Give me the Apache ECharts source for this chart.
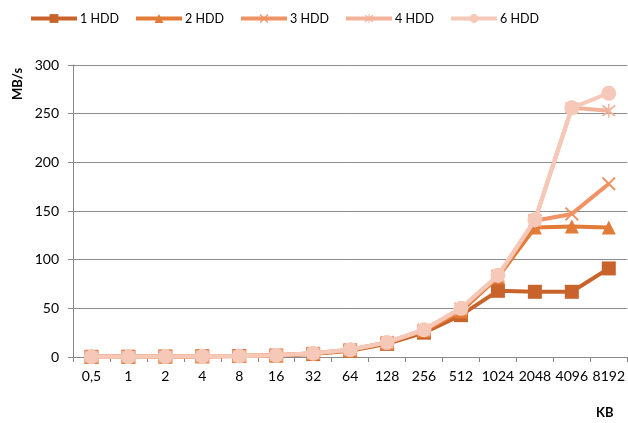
<!DOCTYPE html>
<html>
<head>
<meta charset="utf-8">
<script src="https://cdn.jsdelivr.net/npm/echarts@6/dist/echarts.min.js"></script>
<style>
  html, body { margin: 0; padding: 0; background: #fff; }
  #chart { width: 628px; height: 423px; }
</style>
</head>
<body>
<div id="chart"></div>
<script>
// Block sizes (KB) on the horizontal axis
const blockSizes = ['0,5', '1', '2', '4', '8', '16', '32', '64', '128', '256', '512', '1024', '2048', '4096', '8192'];

// Throughput in MB/s per disk count
const hdd1 = [0.2, 0.3, 0.5, 0.8, 1.0, 1.5, 3.0, 6.5, 13.5, 25, 43, 68, 67, 67, 91];
const hdd2 = [0.2, 0.3, 0.5, 0.8, 1.0, 1.8, 3.5, 7.0, 14.5, 27, 47, 82, 133, 134, 133];
const hdd3 = [0.2, 0.3, 0.5, 0.8, 1.0, 1.8, 3.8, 7.5, 15, 27.5, 49, 83, 140, 147, 178];
const hdd4 = [0.2, 0.3, 0.5, 0.8, 1.0, 1.8, 3.8, 7.5, 15, 28, 50, 83, 140, 256, 253];
const hdd6 = [0.2, 0.3, 0.5, 0.8, 1.0, 1.8, 3.8, 7.5, 15, 28, 50, 84, 141, 256, 271];

const seriesNames = ['1 HDD', '2 HDD', '3 HDD', '4 HDD', '6 HDD'];
const colors = ['#C8642B', '#E27B37', '#EF9264', '#F3B29A', '#F6C8B8'];

const crossPath = 'path://M0,1L1,0L5,4L9,0L10,1L6,5L10,9L9,10L5,6L1,10L0,9L4,5Z';
const starPath = 'path://M0,1.6L0.8,0.8L5,4L9.2,0.8L10,1.6L6,5L10,8.4L9.2,9.2L5,6L0.8,9.2L0,8.4L4,5Z M4.5,0L5.5,0L5.5,10L4.5,10Z';

const symbols = ['rect', 'triangle', crossPath, starPath, 'circle'];
const symbolSizes = [14, 14, 14, 14, 15];
const dataSets = [hdd1, hdd2, hdd3, hdd4, hdd6];

const chart = echarts.init(document.getElementById('chart'), null, { renderer: 'canvas' });

const font = 'Lato, "Open Sans", sans-serif';

chart.setOption({
  animation: false,
  color: colors,
  textStyle: { fontFamily: font },
  legend: {
    top: 7,
    left: 24,
    itemGap: 15,
    itemWidth: 46,
    itemHeight: 11,
    lineStyle: { width: 4 },
    textStyle: { fontSize: 12.5, color: '#000', fontFamily: font, padding: [0, 0, 0, -2] },
    data: seriesNames
  },
  grid: { left: 73, right: 0, top: 65, bottom: 66, containLabel: false },
  xAxis: {
    type: 'category',
    data: blockSizes,
    boundaryGap: true,
    axisLine: { lineStyle: { color: '#888', width: 1 } },
    axisTick: { show: true, length: 5, alignWithLabel: false, lineStyle: { color: '#888' } },
    axisLabel: { fontSize: 14, color: '#000', margin: 12, interval: 0, fontFamily: font }
  },
  yAxis: {
    type: 'value',
    min: 0,
    max: 300,
    interval: 50,
    axisLine: { show: true, lineStyle: { color: '#888', width: 1 } },
    axisTick: { show: true, length: 5, lineStyle: { color: '#888' } },
    splitLine: { lineStyle: { color: '#8c8c8c', width: 1 } },
    axisLabel: { fontSize: 14, color: '#000', margin: 14, fontFamily: font }
  },
  graphic: [
    {
      type: 'text',
      x: 11,
      y: 100,
      rotation: Math.PI / 2,
      style: { text: 'MB/s', font: 'bold 13px ' + font, fill: '#000' }
    },
    {
      type: 'text',
      x: 596,
      y: 406,
      style: { text: 'KB', font: 'bold 13px ' + font, fill: '#000' }
    }
  ],
  series: seriesNames.map((name, i) => ({
    name: name,
    type: 'line',
    data: dataSets[i],
    symbol: symbols[i],
    symbolSize: symbolSizes[i],
    showSymbol: true,
    lineStyle: { width: 4, color: colors[i] },
    itemStyle: { color: colors[i] },
    z: 2 + i
  }))
});
</script>
</body>
</html>
